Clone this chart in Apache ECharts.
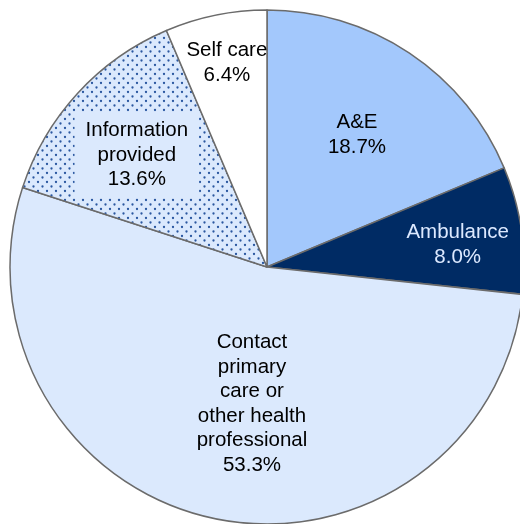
<!DOCTYPE html>
<html>
<head>
<meta charset="utf-8">
<script src="https://cdn.jsdelivr.net/npm/echarts@6/dist/echarts.min.js"></script>
<style>html,body{margin:0;padding:0;background:#fff;}#c{width:520px;height:524px;}</style>
</head>
<body>
<div id="c"></div>
<script>
const categories = ['A&E', 'Ambulance', 'Contact\nprimary\ncare or\nother health\nprofessional', 'Information\nprovided', 'Self care'];
const values = [18.7, 8.0, 53.3, 13.6, 6.4];
const colors = ['#a3c8fc', '#002b64', '#dbe9fd', null, '#ffffff'];
const labelColors = ['#000', '#dce9ff', '#000', '#000', '#000'];
const labelRadiusFrac = [0.622, 0.747, 0.536, 0.668, 0.809];
const labelAngleShift = [0.6, 1.7, -5.8, -1.8, 0.4];

function dotPattern() {
  const c = document.createElement('canvas');
  c.width = 9; c.height = 9;
  const g = c.getContext('2d');
  g.fillStyle = '#dbe9fd';
  g.fillRect(0, 0, 9, 9);
  g.fillStyle = '#2a57a0';
  g.beginPath(); g.arc(2, 2, 1.15, 0, Math.PI * 2); g.fill();
  g.beginPath(); g.arc(6.5, 6.5, 1.15, 0, Math.PI * 2); g.fill();
  return c;
}

const cx = 267, cy = 267, R = 257;
const total = values.reduce((a, b) => a + b, 0);
const cum = [];
values.reduce((acc, v, i) => { cum[i] = acc + v / 2; return acc + v; }, 0);

const chart = echarts.init(document.getElementById('c'), null, {renderer: 'canvas'});
const pat = {image: dotPattern(), repeat: 'repeat'};
chart.setOption({
  animation: false,
  series: [{
    type: 'pie',
    center: [cx, cy],
    radius: [0, R],
    startAngle: 90,
    clockwise: true,
    avoidLabelOverlap: false,
    itemStyle: {borderColor: '#6b6b6b', borderWidth: 1.5},
    label: {
      show: true,
      position: 'inside',
      formatter: p => p.name + '\n' + p.value.toFixed(1) + '%',
      fontFamily: 'Liberation Sans, Arial, sans-serif',
      fontSize: 20.5,
      lineHeight: 24.5,
      align: 'center'
    },
    labelLine: {show: false},
    labelLayout: function (p) {
      const i = p.dataIndex;
      const ang = cum[i] / total * Math.PI * 2 + labelAngleShift[i] * Math.PI / 180;
      const d = R * labelRadiusFrac[i];
      return {x: cx + d * Math.sin(ang), y: cy - d * Math.cos(ang), align: 'center', verticalAlign: 'middle'};
    },
    emphasis: {disabled: true},
    data: categories.map((n, i) => ({
      name: n,
      value: values[i],
      itemStyle: {color: colors[i] === null ? pat : colors[i]},
      label: i === 3 ? {color: labelColors[i], backgroundColor: '#dbe9fd', padding: [4, 11, 7, 11]} : {color: labelColors[i]}
    }))
  }]
});
</script>
</body>
</html>
